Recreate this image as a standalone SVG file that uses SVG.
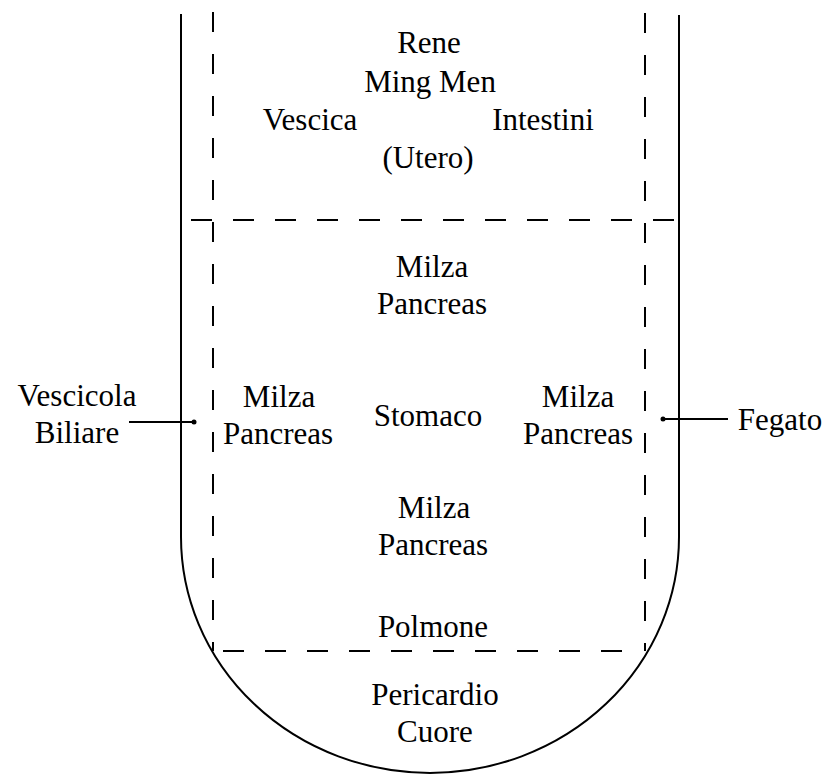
<svg xmlns="http://www.w3.org/2000/svg" width="826" height="775" viewBox="0 0 826 775">
<style>
.t{font-family:"Liberation Serif","Times New Roman",serif;font-size:31px;fill:#000;text-anchor:middle}
.solid{fill:none;stroke:#000;stroke-width:2}
.dash{fill:none;stroke:#000;stroke-width:2;stroke-dasharray:20 22}
.hdash{fill:none;stroke:#000;stroke-width:2;stroke-dasharray:21 21}
</style>
<rect width="826" height="775" fill="#fff"/>
<g id="outline">
<path class="solid" d="M181,14 L181,537 A249,236 0 0 0 679,537 L679,15"/>
</g>
<g id="grid">
<line class="dash" x1="213" y1="12" x2="213" y2="651"/>
<line class="dash" x1="645" y1="13" x2="645" y2="651"/>
<line class="hdash" x1="191" y1="220" x2="676" y2="220"/>
<line class="hdash" x1="223" y1="651" x2="643" y2="651"/>
</g>
<g id="connectors">
<line class="solid" x1="129" y1="422" x2="194" y2="422"/>
<circle cx="194" cy="422" r="2.5" fill="#000"/>
<line class="solid" x1="663" y1="419" x2="728" y2="419"/>
<circle cx="663" cy="419" r="2.5" fill="#000"/>
</g>
<g id="top">
<text class="t" x="429" y="53">Rene</text>
<text class="t" x="430" y="92">Ming Men</text>
<text class="t" x="310" y="130">Vescica</text>
<text class="t" x="543" y="130">Intestini</text>
<text class="t" x="428" y="168">(Utero)</text>
</g>
<g id="milza-top">
<text class="t" x="432" y="277">Milza</text>
<text class="t" x="432" y="314">Pancreas</text>
</g>
<g id="milza-left">
<text class="t" x="279" y="407">Milza</text>
<text class="t" x="278" y="444">Pancreas</text>
</g>
<g id="stomaco">
<text class="t" x="428" y="426">Stomaco</text>
</g>
<g id="milza-right">
<text class="t" x="578" y="407">Milza</text>
<text class="t" x="578" y="444">Pancreas</text>
</g>
<g id="milza-bottom">
<text class="t" x="434" y="518">Milza</text>
<text class="t" x="433" y="555">Pancreas</text>
</g>
<g id="polmone">
<text class="t" x="433" y="637">Polmone</text>
</g>
<g id="cuore">
<text class="t" x="435" y="705">Pericardio</text>
<text class="t" x="435" y="742">Cuore</text>
</g>
<g id="vescicola">
<text class="t" x="77" y="406">Vescicola</text>
<text class="t" x="77" y="443">Biliare</text>
</g>
<g id="fegato">
<text class="t" x="780" y="430">Fegato</text>
</g>
</svg>
